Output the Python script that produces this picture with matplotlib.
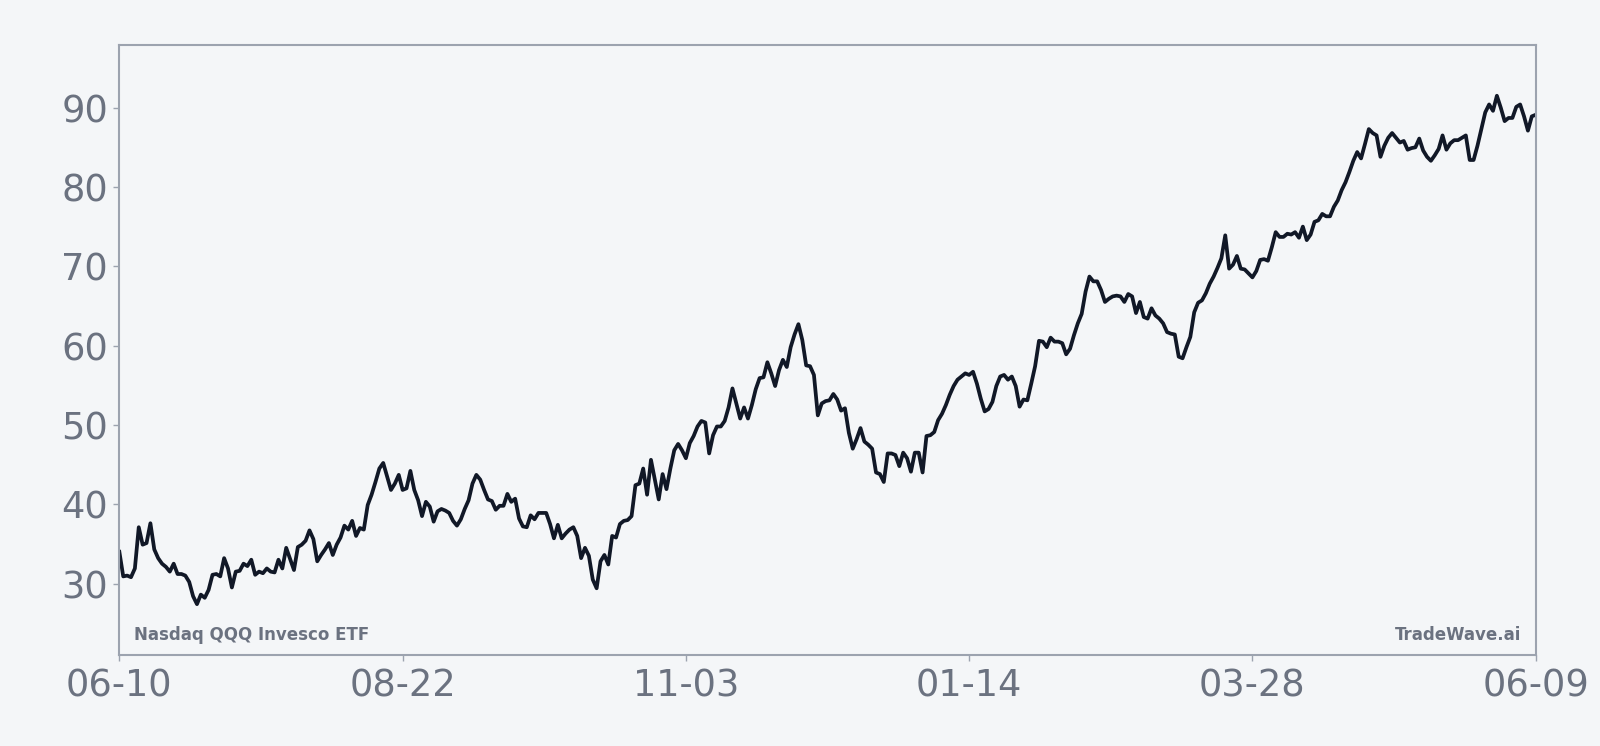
import matplotlib
matplotlib.use("Agg")
import matplotlib.pyplot as plt
import numpy as np

# %% data: daily close
prices = [
    34.0, 30.9, 31.0, 30.8, 31.9, 37.1, 34.9, 35.1, 37.6, 34.3,
    33.2, 32.5, 32.1, 31.5, 32.5, 31.2, 31.2, 31.0, 30.2, 28.4,
    27.4, 28.6, 28.2, 29.2, 31.1, 31.2, 30.9, 33.2, 31.9, 29.5,
    31.5, 31.6, 32.5, 32.2, 33.0, 31.1, 31.5, 31.3, 31.9, 31.5,
    31.4, 33.0, 31.9, 34.5, 33.1, 31.7, 34.6, 34.9, 35.4, 36.7,
    35.6, 32.8, 33.6, 34.3, 35.1, 33.6, 34.9, 35.8, 37.3, 36.8,
    37.9,
    36.0, 37.0, 36.8, 39.9, 41.2, 42.8, 44.5, 45.2, 43.5, 41.8,
    42.6, 43.7, 41.8, 42.0, 44.2, 41.8, 40.5, 38.5, 40.3, 39.7,
    37.8, 39.1, 39.4, 39.2, 38.9, 37.9, 37.3, 38.1, 39.4, 40.5,
    42.6, 43.7, 43.1, 41.8, 40.6, 40.4, 39.3, 39.8, 39.8, 41.3,
    40.3, 40.7, 38.2, 37.2, 37.1, 38.6, 38.1, 38.9, 38.9, 38.9,
    37.5, 35.7, 37.4, 35.7, 36.3, 36.8, 37.1, 36.0, 33.2, 34.5,
    33.5, 30.5,
    29.4, 32.8, 33.6, 32.4, 36.0, 35.8, 37.5, 37.9, 38.0, 38.5,
    42.4, 42.6, 44.5, 41.2, 45.6, 43.1, 40.6, 43.8, 41.9, 44.5,
    46.8, 47.6, 46.8, 45.8, 47.7, 48.6, 49.8, 50.5, 50.3, 46.4,
    48.7, 49.8, 49.8, 50.5, 52.2, 54.6, 52.7, 50.8, 52.2, 50.8,
    52.5, 54.5, 55.9, 56.0, 57.9, 56.5, 54.9, 56.9, 58.2, 57.3,
    59.8, 61.4, 62.7, 60.7, 57.5, 57.4, 56.3, 51.2, 52.7, 53.0,
    53.1, 53.9, 53.2, 51.8, 52.1, 49.0, 47.0, 48.2, 49.6, 47.9,
    47.5, 47.0, 44.0, 43.8, 42.8, 46.4, 46.4, 46.2, 44.8, 46.5,
    45.8, 44.1, 46.5, 46.5, 44.0, 48.6, 48.7, 49.1, 50.6, 51.4,
    52.5, 53.8, 54.9, 55.7, 56.1, 56.5, 56.3, 56.7, 55.2, 53.3,
    51.7, 52.0, 52.9, 54.9, 56.1, 56.3, 55.7, 56.1, 54.9, 52.3,
    53.2, 53.1, 55.2, 57.4, 60.6, 60.5, 59.8, 61.0, 60.5, 60.5,
    60.3, 58.9, 59.6, 61.3, 62.8, 64.0, 66.8, 68.7, 68.1, 68.1,
    67.0, 65.5, 65.9, 66.2, 66.3, 66.2, 65.5, 66.5, 66.2, 64.1,
    65.5, 63.6, 63.4, 64.7, 63.8, 63.4, 62.8, 61.7, 61.5, 61.4,
    58.6, 58.4, 59.8, 61.1, 64.2, 65.4, 65.7, 66.6, 67.8, 68.7,
    69.8, 71.0, 73.9, 69.7, 70.2, 71.3, 69.7, 69.6, 69.1, 68.6,
    69.4, 70.8, 70.9, 70.7, 72.4, 74.3, 73.7, 73.7, 74.1, 74.0,
    74.3, 73.6,
    75.0, 73.3, 74.0, 75.6, 75.8, 76.6, 76.3, 76.3, 77.5, 78.3,
    79.6, 80.6, 81.9, 83.3, 84.4, 83.6, 85.4, 87.3, 86.8, 86.5,
    83.8, 85.2, 86.2, 86.8, 86.2, 85.6, 85.8, 84.7, 84.9, 85.0,
    86.1, 84.6, 83.8, 83.3, 84.0, 84.8, 86.5, 84.7, 85.5, 85.9,
    85.9, 86.2, 86.5, 83.4, 83.4, 85.2, 87.3, 89.4, 90.4, 89.6,
    91.5, 90.0, 88.3, 88.7, 88.7, 90.1, 90.4, 88.9, 87.1, 88.9,
    89.1,
]
date_labels = ["06-10", "08-22", "11-03", "01-14", "03-28", "06-09"]
y_ticks = [30, 40, 50, 60, 70, 80, 90]

bg = "#f4f6f8"
grey = "#6b7280"
spine = "#9ca3af"

# %% plot
fig = plt.figure(figsize=(16, 7.46), dpi=100, facecolor=bg)
ax = fig.add_axes([0.0746, 0.122, 0.8852, 0.8178], facecolor=bg)

x = np.arange(len(prices))
ax.plot(x, prices, color="#111827", linewidth=2.7, solid_joinstyle="round")

lo, hi = min(prices), max(prices)
span = hi - lo
ax.set_ylim(lo - 0.1 * span, hi + 0.1 * span)
ax.set_xlim(0, len(prices) - 1)

ax.set_xticks(np.linspace(0, len(prices) - 1, len(date_labels)))
ax.set_xticklabels(date_labels)
ax.set_yticks(y_ticks)

for s in ax.spines.values():
    s.set_color(spine)
    s.set_linewidth(1.5)
ax.tick_params(axis="both", colors=spine, labelcolor=grey, labelsize=26.5,
               length=4, width=1)
ax.tick_params(axis="y", pad=4)
ax.tick_params(axis="x", pad=5)

ax.text(0.0103, 0.025, "Nasdaq QQQ Invesco ETF", transform=ax.transAxes,
        fontsize=12, fontweight="bold", color=grey, ha="left", va="baseline")
ax.text(0.9897, 0.025, "TradeWave.ai", transform=ax.transAxes,
        fontsize=12, fontweight="bold", color=grey, ha="right", va="baseline")

fig.savefig("out.png", dpi=100, facecolor=bg)
